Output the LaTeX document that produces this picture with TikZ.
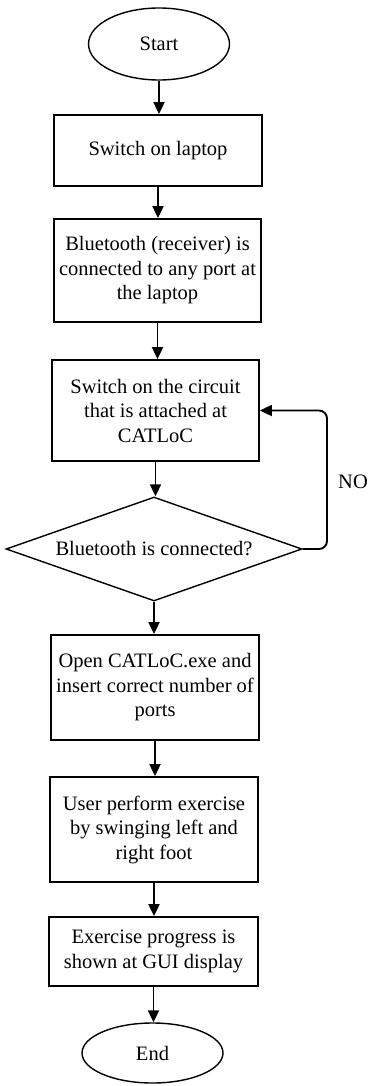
\documentclass[tikz,border=0pt]{standalone}
\usepackage{fontspec}
\setmainfont{Liberation Serif}
\usetikzlibrary{shapes.geometric,arrows.meta}
\begin{document}
\begin{tikzpicture}[x=1pt,y=-1pt,
  every node/.style={font=\fontsize{20.5}{24.5}\selectfont, align=center, inner sep=0pt},
  procbox/.style={draw, line width=1.8pt, rectangle},
  term/.style={draw, line width=1.4pt, ellipse},
  decis/.style={draw, line width=1.4pt, diamond, aspect=2.846},
  flow/.style={line width=1.9pt, -{Triangle[length=12pt,width=11pt]}}]
\useasboundingbox (0,0) rectangle (371,1086);
\node[term, minimum width=141pt, minimum height=72pt] (start) at (159,44) {Start};
\node[procbox, minimum width=208pt, minimum height=71pt] (b1) at (158,150.5) {Switch on laptop};
\node[procbox, minimum width=207pt, minimum height=103pt] (b2) at (157.5,270.5) {Bluetooth (receiver) is\\connected to any port at\\the laptop};
\node[procbox, minimum width=207pt, minimum height=101pt] (b3) at (155.5,410.5) {Switch on the circuit\\that is attached at\\CATLoC};
\node[decis, minimum width=296pt, minimum height=104pt] (d) at (154,549) {Bluetooth is connected?};
\node[procbox, minimum width=208pt, minimum height=105pt] (b4) at (155,687.5) {Open CATLoC.exe and\\insert correct number of\\ports};
\node[procbox, minimum width=208pt, minimum height=105pt] (b5) at (154,829.5) {User perform exercise\\by swinging left and\\right foot};
\node[procbox, minimum width=209pt, minimum height=69pt] (b6) at (153.5,951.5) {Exercise progress is\\shown at GUI display};
\node[term, minimum width=141pt, minimum height=60pt] (end) at (152.5,1053) {End};
\node (no) at (353,482) {NO};
\coordinate (loop) at (327,549);
\draw[flow] (start.south) -- (start.south |- b1.north);
\draw[flow] (b1.south) -- (b1.south |- b2.north);
\draw[flow] (b2.south) -- (b2.south |- b3.north);
\draw[flow] (b3.south) -- (b3.south |- d.north);
\draw[flow] (d.south) -- (d.south |- b4.north);
\draw[flow] (b4.south) -- (b4.south |- b5.north);
\draw[flow] (b5.south) -- (b5.south |- b6.north);
\draw[flow] (b6.south) -- (b6.south |- end.north);
\draw[flow, rounded corners=8pt] (d.east) -- (loop) |- (b3.east);
\end{tikzpicture}
\end{document}
